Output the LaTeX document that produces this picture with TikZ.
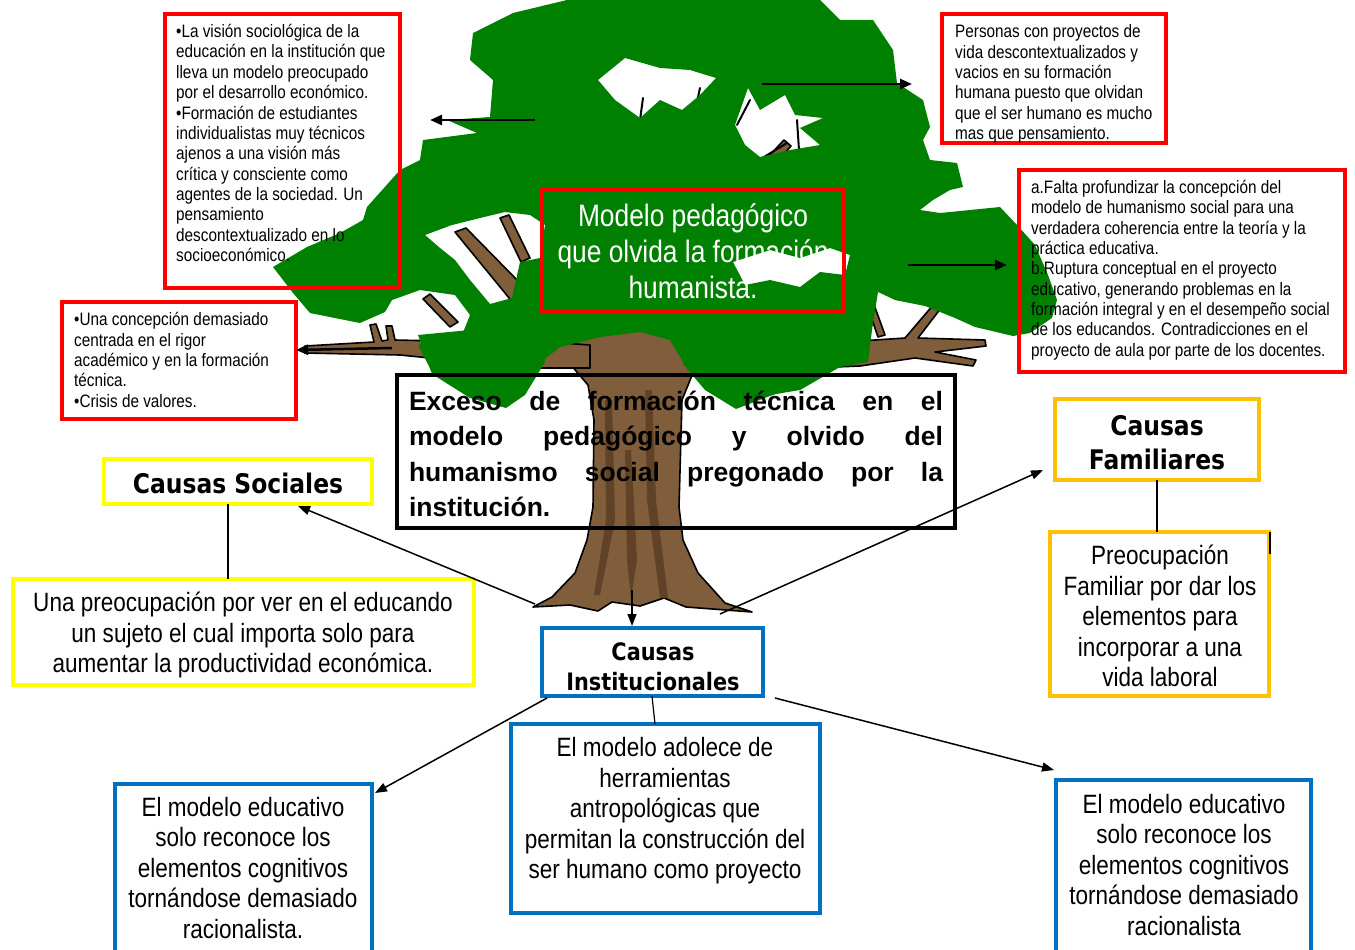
\documentclass[tikz,border=0pt]{standalone}
\usepackage{fontspec}
\setmainfont{Liberation Sans}
\newfontfamily\narrowfnt{Liberation Sans}[FakeStretch=0.85]
\newfontfamily\titlefnt{DejaVu Sans}[FakeStretch=0.868]
\usetikzlibrary{arrows.meta}
\definecolor{treegreen}{RGB}{0,128,0}
\definecolor{trunkbrown}{RGB}{128,94,60}
\definecolor{trunkdark}{RGB}{96,66,38}
\definecolor{boxred}{RGB}{255,0,0}
\definecolor{boxyellow}{RGB}{255,255,0}
\definecolor{boxgold}{RGB}{255,192,0}
\definecolor{boxblue}{RGB}{0,112,192}
\tikzset{
  boxbase/.style={rectangle, inner sep=0pt, outer sep=0pt, line width=4pt},
  redbox/.style={boxbase, draw=boxred, line width=3.6pt},
  yelbox/.style={boxbase, draw=boxyellow},
  goldbox/.style={boxbase, draw=boxgold},
  bluebox/.style={boxbase, draw=boxblue},
  blackbox/.style={boxbase, draw=black},
  smalltxt/.style={font=\narrowfnt\fontsize{18}{20.36}\selectfont, align=left, inner sep=0pt},
  midtxt/.style={font=\narrowfnt\fontsize{26.5}{30.5}\selectfont, align=center, inner sep=0pt},
  titletxt/.style={font=\titlefnt\bfseries\fontsize{27}{34}\selectfont, align=center, inner sep=0pt},
  branch/.style={fill=trunkbrown, draw=black, line width=1.6pt, line join=round},
  twig/.style={draw=black, line width=2pt, line cap=round},
  conn/.style={draw=black, line width=1.5pt, -{Triangle[length=12pt,width=9pt]}},
  treearrow/.style={draw=black, line width=2.5pt, -{Triangle[length=12pt,width=10pt]}},
  plainline/.style={draw=black, line width=1.2pt}
}
\begin{document}
\begin{tikzpicture}[x=1pt,y=-1pt]
\useasboundingbox (0,0) rectangle (1355,950);

% ---------- tree: trunk ----------
\path[branch] (533,607) -- (552,597) -- (575,573) -- (587,540) -- (593,507) -- (594,420)
  -- (588,385) -- (565,358) -- (530,345) -- (600,333) -- (650,328) -- (705,333) -- (722,345)
  -- (695,368) -- (682,400) -- (679,507) -- (683,540) -- (698,573) -- (725,603) -- (752,612)
  -- (686,607) -- (664,598) -- (640,606) -- (612,602) -- (598,611) -- (570,605) -- cycle;
\fill[trunkdark] (605,400) -- (612,400) -- (615,520) -- (600,595) -- (594,595) -- (606,520) -- cycle;
\fill[trunkdark] (645,390) -- (652,390) -- (656,500) -- (668,598) -- (660,598) -- (647,500) -- cycle;
\fill[trunkdark] (625,450) -- (631,450) -- (637,560) -- (631,598) -- (627,560) -- cycle;

% ---------- tree: branches ----------
\path[branch] (590,345) -- (520,340) -- (440,341) -- (395,340) -- (392,326) -- (386,326)
  -- (388,340) -- (382,341) -- (376,324) -- (370,325) -- (374,342) -- (305,346) -- (305,353)
  -- (400,355) -- (470,362) -- (540,368) -- (590,368) -- cycle;
\path[branch] (455,232) -- (466,228) -- (520,283) -- (560,335) -- (545,343) -- (505,293) -- cycle;
\path[branch] (500,218) -- (509,215) -- (530,258) -- (521,262) -- cycle;
\path[branch] (423,299) -- (430,294) -- (458,322) -- (450,327) -- cycle;
\path[branch] (700,335) -- (712,255) -- (732,195) -- (784,140) -- (791,146) -- (744,200)
  -- (726,258) -- (716,335) -- cycle;
\path[branch] (700,345) -- (800,345) -- (905,338) -- (934,304) -- (941,308) -- (918,338)
  -- (985,340) -- (986,346) -- (935,352) -- (976,360) -- (973,366) -- (915,358) -- (860,366)
  -- (760,370) -- (700,372) -- cycle;
\path[branch] (862,290) -- (868,288) -- (885,335) -- (878,337) -- cycle;
\draw[twig] (643,98) -- (638,135);
\draw[twig] (700,88) -- (692,125);
\draw[twig] (750,100) -- (737,125);
\draw[twig] (797,120) -- (799,150);
\draw[twig] (787,143) -- (723,182);

% ---------- tree: canopy ----------
\fill[treegreen, even odd rule]
  (567,0) -- (820,0) -- (840,20) -- (873,20) -- (893,50) -- (897,83) -- (923,100) -- (930,127)
  -- (923,140) -- (930,160) -- (957,163) -- (963,187) -- (950,190) -- (933,200) -- (920,210)
  -- (940,213) -- (1000,207) -- (1017,225) -- (1035,245) -- (1048,275) -- (1057,300)
  -- (1052,318) -- (1030,333) -- (1013,336) -- (975,327) -- (955,318) -- (925,306) -- (895,300)
  -- (878,292) -- (872,330) -- (868,362) -- (840,367) -- (800,390) -- (770,395) -- (736,408)
  -- (705,388) -- (683,362) -- (670,340) -- (640,332) -- (600,337) -- (560,347) -- (541,362)
  -- (522,395) -- (505,405) -- (470,395) -- (432,372) -- (418,345) -- (462,335) -- (470,315)
  -- (455,295) -- (420,290) -- (392,300) -- (385,312) -- (360,323) -- (310,313) -- (293,293)
  -- (273,267) -- (307,247) -- (340,233) -- (363,220) -- (367,207) -- (400,170) -- (420,160)
  -- (423,140) -- (477,133) -- (447,120) -- (490,117) -- (493,80) -- (470,60) -- (473,33)
  -- (513,13) -- cycle
  (598,80) -- (625,58) -- (660,68) -- (690,70) -- (716,78) -- (700,95) -- (682,110) -- (660,100)
  -- (640,118) -- (615,100) -- cycle
  (735,125) -- (748,88) -- (760,110) -- (785,95) -- (795,115) -- (823,118) -- (800,128)
  -- (820,145) -- (790,150) -- (760,157) -- (745,145) -- cycle
  (425,235) -- (452,225) -- (480,218) -- (505,212) -- (530,215) -- (545,225) -- (540,258)
  -- (520,262) -- (512,298) -- (490,304) -- (470,280) -- (455,260) -- (440,248) -- cycle
  (733,262) -- (770,250) -- (800,258) -- (830,248) -- (850,255) -- (845,275) -- (820,272)
  -- (800,287) -- (770,280) -- (745,285) -- cycle;
% lower lobes of the canopy, reaching into the central box
\fill[treegreen] (418,335) -- (470,330) -- (541,340) -- (545,362) -- (525,395) -- (506,408)
  -- (470,398) -- (432,374) -- cycle;
\fill[treegreen] (683,345) -- (740,335) -- (805,350) -- (801,385) -- (770,396) -- (736,409)
  -- (705,390) -- (683,364) -- cycle;

% ---------- boxes ----------
\node[redbox, minimum width=235pt, minimum height=274pt] (tl) at (282.5,151) {};
\node[redbox, minimum width=234pt, minimum height=117pt] (lr) at (179,360.5) {};
\node[redbox, minimum width=224pt, minimum height=129pt] (tr) at (1054,78.5) {};
\node[redbox, minimum width=326pt, minimum height=202pt] (rr) at (1182,271) {};
\node[redbox, minimum width=302pt, minimum height=122pt] (cr) at (693,250) {};
\node[blackbox, minimum width=558pt, minimum height=153pt] (ex) at (676,451.5) {};
\node[yelbox, minimum width=268pt, minimum height=45pt] (cs) at (238,481.5) {};
\node[yelbox, minimum width=461pt, minimum height=106pt] (ys) at (243.5,632) {};
\node[goldbox, minimum width=204pt, minimum height=81pt] (cf) at (1157,439.5) {};
\node[goldbox, minimum width=219pt, minimum height=164pt] (gt) at (1159.5,614) {};
\node[bluebox, minimum width=221pt, minimum height=68pt] (ci) at (652.5,662) {};
\node[bluebox, minimum width=309pt, minimum height=189pt] (mb) at (665.5,818.5) {};
\node[bluebox, minimum width=257pt, minimum height=171pt] (bl) at (243.5,869.5) {};
\node[bluebox, minimum width=255pt, minimum height=175pt] (br) at (1183.5,867.5) {};

% ---------- texts ----------
\node[smalltxt, anchor=west] (tlt) at (176,143) {•La visión sociológica de la\\educación en la institución que\\lleva un modelo preocupado\\por el desarrollo económico.\\•Formación de estudiantes\\individualistas muy técnicos\\ajenos a una visión más\\crítica y consciente como\\agentes de la sociedad. Un\\pensamiento\\descontextualizado en lo\\socioeconómico.};
\node[smalltxt, anchor=west] (lrt) at (74,360) {•Una concepción demasiado\\centrada en el rigor\\académico y en la formación\\técnica.\\•Crisis de valores.};
\node[smalltxt, anchor=west] (trt) at (955,84) {Personas con proyectos de\\vida descontextualizados y\\vacios en su formación\\humana puesto que olvidan\\que el ser humano es mucho\\mas que pensamiento.};
\node[smalltxt, anchor=west] (rrt) at (1031,270) {a.Falta profundizar la concepción del\\modelo de humanismo social para una\\verdadera coherencia entre la teoría y la\\práctica educativa.\\b.Ruptura conceptual en el proyecto\\educativo, generando problemas en la\\formación integral y en el desempeño social\\de los educandos. Contradicciones en el\\proyecto de aula por parte de los docentes.};
\node[midtxt, text=white, font=\narrowfnt\fontsize{31}{36}\selectfont] (crt) at (693,251) {Modelo pedagógico\\que olvida la formación\\humanista.};
\node[inner sep=0pt, align=left, font=\bfseries\fontsize{26.5}{35.5}\selectfont] (ext) at (676,454) {\makebox[534pt][s]{Exceso de formación técnica en el}\\\makebox[534pt][s]{modelo pedagógico y olvido del}\\\makebox[534pt][s]{humanismo social pregonado por la}\\institución.};
\node[titletxt] (cst) at (238,483) {Causas Sociales};
\node[midtxt] (yst) at (243,635) {Una preocupación por ver en el educando\\un sujeto el cual importa solo para\\aumentar la productividad económica.};
\node[titletxt] (cft) at (1157,443) {Causas\\Familiares};
\node[midtxt] (gtt) at (1160,616) {Preocupación\\Familiar por dar los\\elementos para\\incorporar a una\\vida laboral};
\node[titletxt, font=\titlefnt\bfseries\fontsize{24}{30}\selectfont] (cit) at (653,667) {Causas\\Institucionales};
\node[midtxt] (mbt) at (665,811) {El modelo adolece de\\herramientas\\antropológicas que\\permitan la construcción del\\ser humano como proyecto};
\node[midtxt] (blt) at (243,868) {El modelo educativo\\solo reconoce los\\elementos cognitivos\\tornándose demasiado\\racionalista.};
\node[midtxt] (brt) at (1184,865) {El modelo educativo\\solo reconoce los\\elementos cognitivos\\tornándose demasiado\\racionalista};

% ---------- arrows from the tree ----------
\coordinate (ta1) at (535,120);
\coordinate (ta2) at (762,84);
\coordinate (ta3) at (908,265);
\coordinate (ta4) at (392,348);
\draw[treearrow] (ta1) -- ([xshift=30pt,yshift=31pt]tl.east);
\draw[treearrow] (ta2) -- ([xshift=-30pt,yshift=-5.5pt]tr.west);
\draw[treearrow] (ta3) -- ([xshift=-12pt,yshift=6pt]rr.west);
\draw[treearrow] (ta4) -- ([yshift=10.5pt]lr.east);

\coordinate (baseL) at (535,604);
\coordinate (baseR) at (720,614);
\coordinate (baseC) at (632,590);
\draw[conn] (baseL) -- ([xshift=60pt,yshift=-2pt]cs.south);
\draw[conn] (baseR) -- ([xshift=-12pt,yshift=10pt]cf.south west);
\draw[conn] (baseC) -- ([xshift=-20.5pt,yshift=2pt]ci.north);
\draw[conn] ([xshift=5pt,yshift=-2pt]ci.south west) -- ([xshift=3pt,yshift=-9pt]bl.north east);
\draw[conn] ([xshift=12pt,yshift=-2pt]ci.south east) -- ([xshift=-2pt,yshift=10pt]br.north west);

% ---------- plain connectors ----------
\draw[plainline] ([xshift=-10pt]cs.south) -- ([xshift=-15.5pt]ys.north);
\draw[plainline] ([xshift=-0.5pt]ci.south) -- ([xshift=-10.5pt]mb.north);
\draw[plainline] (cf.south) -- ([xshift=-2.5pt]gt.north);
\draw[plainline] ([xshift=1pt]gt.north east) -- ++(0,22);
\end{tikzpicture}
\end{document}
